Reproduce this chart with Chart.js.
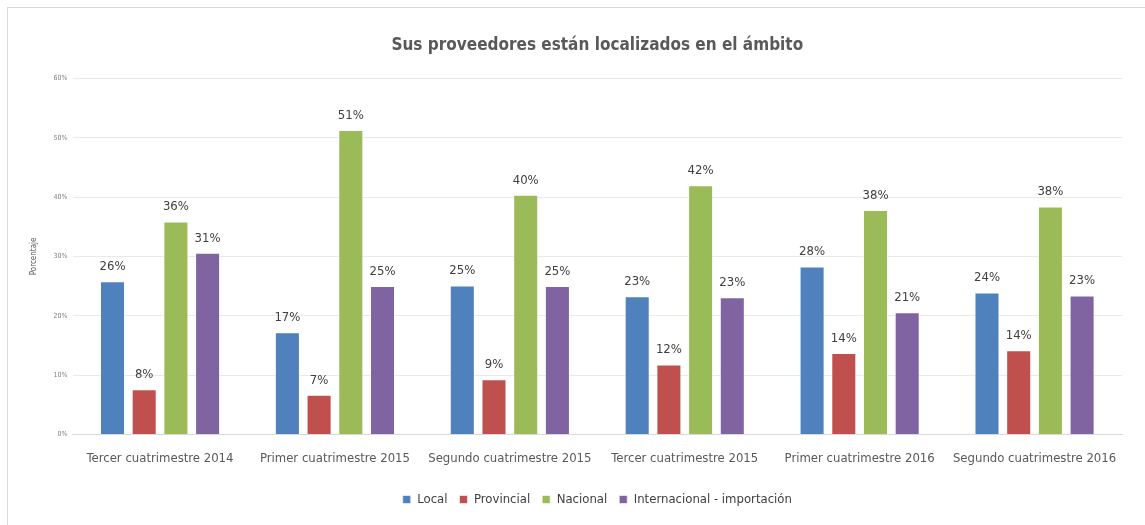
<!DOCTYPE html>
<html>
<head>
<meta charset="utf-8">
<script src="https://cdn.jsdelivr.net/npm/chart.js@4/dist/chart.umd.min.js"></script>
<style>
    body { margin: 0; background: #fff; }
    #marco { position: absolute; left: 7px; top: 7px; width: 1138px; height: 518px;
             border-top: 1px solid #d9d9d9; border-left: 1px solid #d9d9d9; }
    #myChart { position: absolute; left: 0; top: 0; }
</style>
</head>
<body>
<div id="marco"></div>
<canvas id="myChart" width="1145" height="525"></canvas>
<script>
let categorias = ['Tercer cuatrimestre 2014', 'Primer cuatrimestre 2015', 'Segundo cuatrimestre 2015',
                  'Tercer cuatrimestre 2015', 'Primer cuatrimestre 2016', 'Segundo cuatrimestre 2016'];
let local = [25.8, 17.2, 25.1, 23.3, 28.3, 23.9];
let provincial = [7.6, 6.7, 9.3, 11.8, 13.7, 14.2];
let nacional = [35.9, 51.3, 40.4, 42.0, 37.8, 38.4];
let internacional = [30.6, 25.0, 25.0, 23.1, 20.6, 23.4];
let ticks_y = [0, 10, 20, 30, 40, 50, 60];

let fuente = "'DejaVu Sans Condensed', 'Liberation Sans Narrow', sans-serif";
Chart.defaults.font.family = fuente;
Chart.defaults.color = '#595959';

// etiquetas de valor arriba de cada barra
let etiquetas = {
    id: 'etiquetas',
    afterDatasetsDraw: function (chart) {
        let ctx = chart.ctx;
        ctx.save();
        ctx.font = '13px ' + fuente;
        ctx.fillStyle = '#404040';
        ctx.textAlign = 'center';
        ctx.textBaseline = 'bottom';
        chart.data.datasets.forEach(function (ds, i) {
            chart.getDatasetMeta(i).data.forEach(function (bar, j) {
                ctx.fillText(Math.round(ds.data[j]) + '%', bar.x, bar.y - 8);
            });
        });
        ctx.restore();
    }
};

let serie = (nombre, valores, color) => ({
    label: nombre,
    data: valores,
    backgroundColor: color,
    borderColor: 'rgba(255,255,255,0.6)',
    borderWidth: 1,
    barPercentage: 0.79,
    categoryPercentage: 0.725
});

let grafico = new Chart(document.getElementById('myChart').getContext('2d'), {
    type: 'bar',
    data: {
        labels: categorias,
        datasets: [
            serie('Local', local, '#4f81bd'),
            serie('Provincial', provincial, '#c0504d'),
            serie('Nacional', nacional, '#9bbb59'),
            serie('Internacional - importación', internacional, '#8064a2')
        ]
    },
    options: {
        responsive: false,
        animation: false,
        layout: { padding: { left: 25, right: 23, top: 14, bottom: 9 } },
        plugins: {
            title: {
                display: true,
                fullSize: false,
                text: 'Sus proveedores están localizados en el ámbito',
                font: { size: 17, weight: 'bold' },
                color: '#595959',
                padding: { top: 21, bottom: 23 }
            },
            legend: {
                position: 'bottom',
                fullSize: false,
                labels: { boxWidth: 8, boxHeight: 8, color: '#404040', font: { size: 13 }, padding: 12 }
            },
            tooltip: { enabled: false }
        },
        scales: {
            x: {
                grid: { display: false },
                border: { color: '#d9d9d9' },
                ticks: { color: '#595959', font: { size: 13 }, padding: 8, maxRotation: 0, autoSkip: false },
                // espacio extra bajo las etiquetas del eje
                afterFit: function (eje) { eje.height += 7; }
            },
            y: {
                min: 0,
                max: 60,
                afterBuildTicks: function (eje) { eje.ticks = ticks_y.map(v => ({ value: v })); },
                grid: { color: '#e9e9e9', drawTicks: false },
                border: { display: false },
                ticks: { font: { size: 7 }, color: '#7f7f7f', callback: v => v + '%', padding: 5 },
                title: { display: true, text: 'Porcentaje', font: { size: 8 }, color: '#595959', padding: { bottom: 10 } }
            }
        }
    },
    plugins: [etiquetas]
});
</script>
</body>
</html>
